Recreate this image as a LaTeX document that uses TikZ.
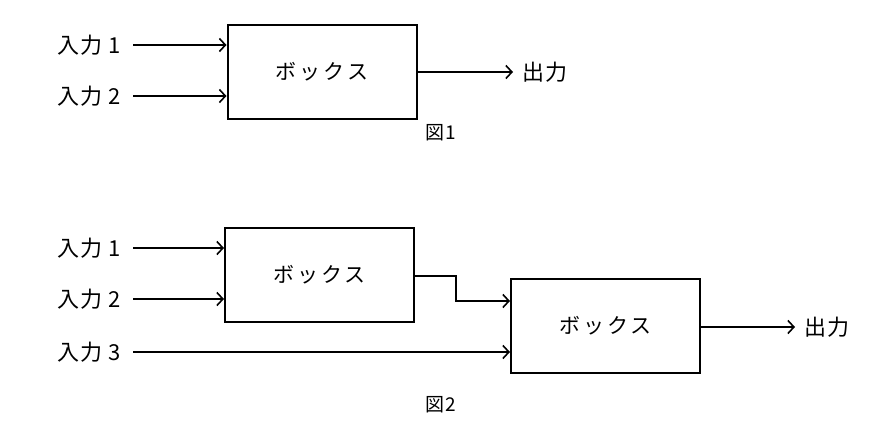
\documentclass[tikz,border=0pt]{standalone}
\usepackage{fontspec}
\newfontfamily\jpfont[LetterSpace=14]{Noto Sans CJK JP}
\newfontfamily\jpplain[LetterSpace=4]{Noto Sans CJK JP}
\usetikzlibrary{arrows.meta}

\tikzset{
  blockbox/.style={draw, line width=2pt, minimum width=189pt, minimum height=94pt, inner sep=0pt, font=\fontsize{21}{21}\jpfont},
  inlabel/.style={inner ysep=6pt, inner xsep=12pt, anchor=east, font=\fontsize{22}{22}\jpplain},
  outlabel/.style={inner ysep=6pt, inner xsep=9pt, anchor=west, font=\fontsize{22}{22}\jpplain},
  figlabel/.style={inner sep=0pt, font=\fontsize{19}{19}\jpplain},
  wire/.style={line width=1.6pt, -{Straight Barb[length=6pt,width=13pt,line width=1.6pt]}}
}

\begin{document}
\begin{tikzpicture}[x=1pt,y=-1pt]
            \useasboundingbox (0,0) rectangle (889,434);

            % figure 1
            \node[blockbox] (box1) at (322,71.5) {ボックス};
            \node[inlabel] (in11) at (133,45) {入力\hspace{6pt}1};
            \node[inlabel] (in12) at (133,96) {入力\hspace{6pt}2};
            \node[outlabel] (out1) at (513,72) {出力};
            \node[figlabel] (fig1) at (441,133) {図1};

            \draw[wire] (in11) -- (in11 -| box1.west);
            \draw[wire] (in12) -- (in12 -| box1.west);
            \draw[wire] (out1 -| box1.east) -- (out1);

            % figure 2
            \node[blockbox] (box2) at (319.5,274.5) {ボックス};
            \node[blockbox] (box3) at (605.5,325.5) {ボックス};
            \node[inlabel] (in21) at (133,248) {入力\hspace{6pt}1};
            \node[inlabel] (in22) at (133,299) {入力\hspace{6pt}2};
            \node[inlabel] (in23) at (133,352) {入力\hspace{6pt}3};
            \node[outlabel] (out2) at (795,327) {出力};
            \node[figlabel] (fig2) at (441,405) {図2};
            \coordinate (bend) at (456,301);

            \draw[wire] (in21) -- (in21 -| box2.west);
            \draw[wire] (in22) -- (in22 -| box2.west);
            \draw[wire] (in23) -- (in23 -| box3.west);
            \draw[wire] (box2.east |- 0,276) -| (bend) -- (bend -| box3.west);
            \draw[wire] (out2 -| box3.east) -- (out2);
\end{tikzpicture}
\end{document}
